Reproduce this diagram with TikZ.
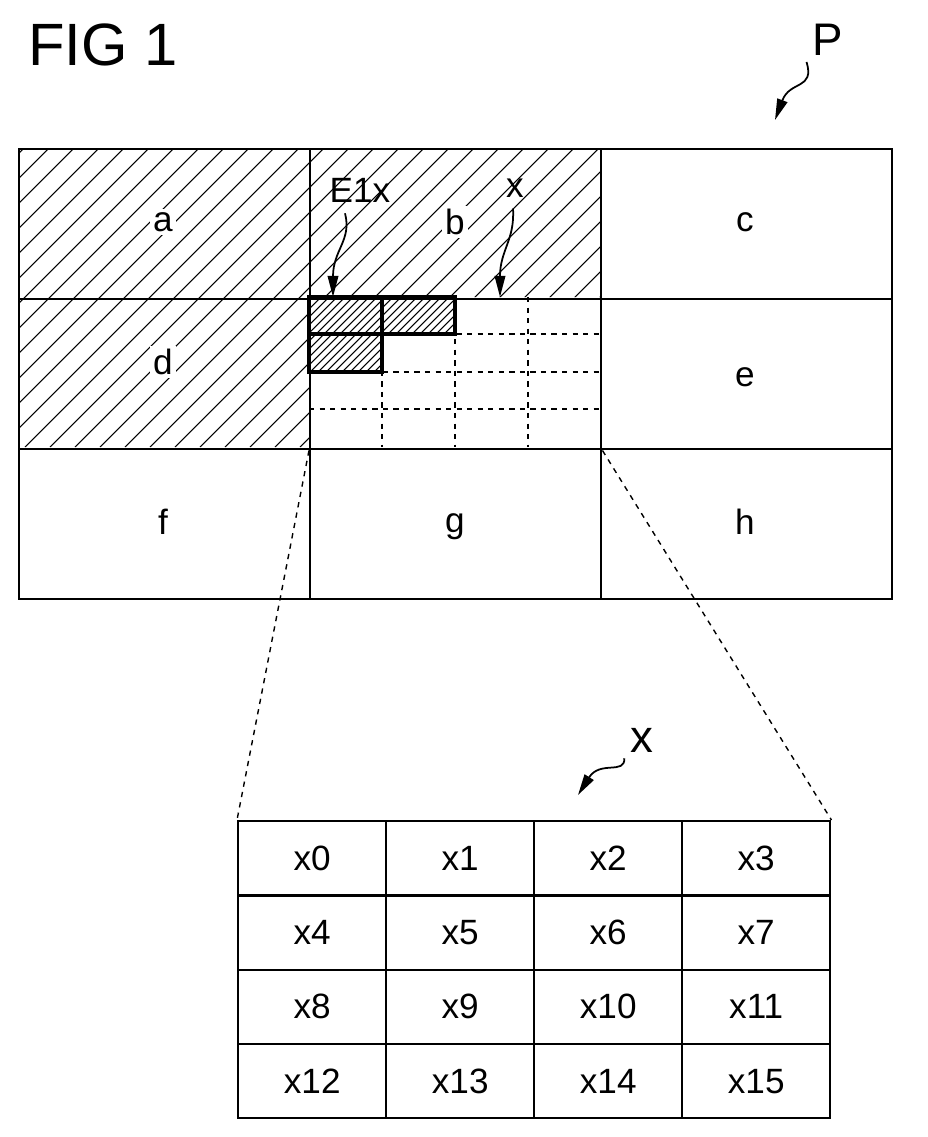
\documentclass[tikz,border=0pt]{standalone}
\usepackage{fontspec}
\setmainfont{Liberation Sans}
\usetikzlibrary{arrows.meta}
\begin{document}
\begin{tikzpicture}[x=0.02cm,y=-0.02cm,
    cell/.style={draw,line width=1.4pt,minimum width=291*0.02cm,minimum height=150*0.02cm,inner sep=0,anchor=north west},
    sub/.style={dashed,line width=0.8pt},
    lbl/.style={font=\fontsize{20}{22}\selectfont},
    pointer/.style={line width=1pt,-{Triangle[length=12pt,width=6pt]}}]
  \useasboundingbox (0,0) rectangle (928,1137);
  \node[font=\fontsize{34}{36}\selectfont,anchor=west] (fig) at (22,45) {FIG 1};
  % hatching of a, b, d
  \begin{scope}
    \clip (18,148) rectangle (600,297) (18,297) rectangle (309,447);
    \foreach \k in {-400,-375,...,700}
      \draw[line width=0.6pt] (\k,447) -- ++(300,-300);
  \end{scope}
  % hatched sub-blocks
  \begin{scope}
    \clip (309,297) rectangle (455,334) (309,334) rectangle (382,372);
    \foreach \k in {150,158,...,470}
      \draw[line width=0.6pt] (\k,372) -- ++(80,-80);
  \end{scope}
  % dashed grid of block x
  \foreach \c in {382,455,528}
    \draw[sub] (\c,297) -- (\c,447);
  \foreach \r in {334,372,409}
    \draw[sub] (309,\r) -- (600,\r);
  \draw[line width=1.8pt] (309,297) rectangle (455,334) (309,334) rectangle (382,372) (382,297) -- (382,334);
  % picture cells
  \foreach \n/\cx/\ry in {a/0/0,b/1/0,c/2/0,d/0/1,xb/1/1,e/2/1,f/0/2,g/1/2,h/2/2}
    \node[cell] (\n) at (18+291*\cx,148+150*\ry) {};
  \foreach \n/\px/\py in {a/163/222,b/455/222,c/745/222,d/163/362,e/745/377,f/163/522,g/455/527,h/745/522}
    \node[lbl,fill=white,inner sep=2pt] at (\px,\py) {\n};
  \node[lbl] (e1x) at (360,190) {E1x};
  \node[lbl] (xl) at (515,188) {x};
  \coordinate (e1xt) at (333,297);
  \coordinate (xt) at (500,297);
  \draw[pointer] (e1x.south) ++(-15,5) .. controls (352,240) and (333,250) .. (e1xt);
  \draw[pointer] (xl.south) ++(-2,5) .. controls (515,240) and (500,250) .. (xt);
  % P
  \node[lbl,font=\fontsize{26}{28}\selectfont] (p) at (828,40) {P};
  \coordinate (pt) at (775,120);
  \draw[pointer] (p.south west) .. controls (815,90) and (790,80) .. (pt);
  % enlarged block x
  \foreach \r in {0,...,3}
    \foreach \c in {0,...,3}{
      \pgfmathtruncatemacro{\m}{4*\r+\c}
      \node[cell,minimum width=148*0.02cm,minimum height=74.25*0.02cm,lbl] (x\m) at (237+148*\c,820+74.25*\r) {x\m};
    }
  \draw[dashed,line width=0.8pt] (xb.south west) -- (x0.north west);
  \draw[dashed,line width=0.8pt] (xb.south east) -- (x3.north east);
  \node[lbl,font=\fontsize{26}{28}\selectfont] (xn) at (642,740) {x};
  \coordinate (xnt) at (578,795);
  \draw[pointer] (xn.south west) .. controls (625,775) and (600,760) .. (xnt);
\end{tikzpicture}
\end{document}
